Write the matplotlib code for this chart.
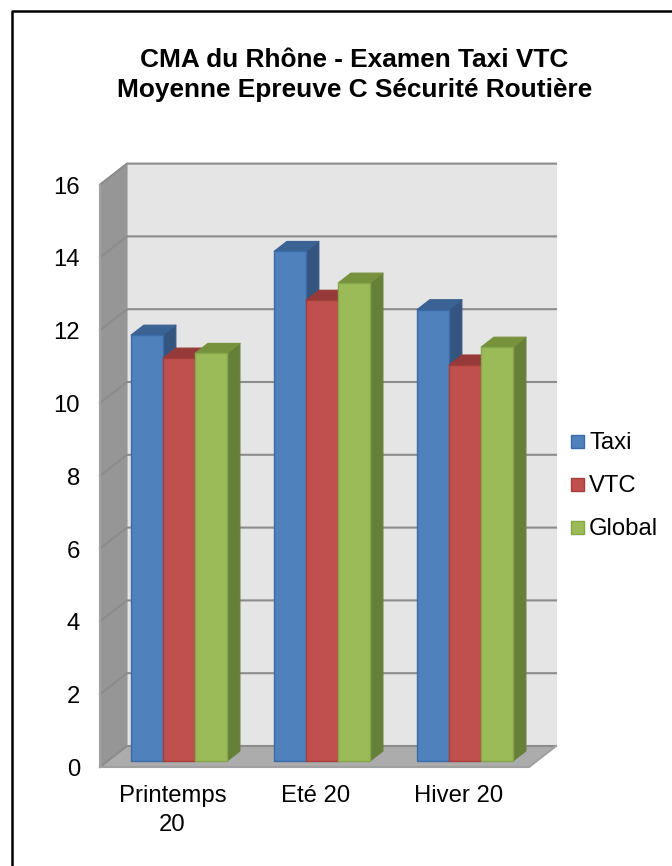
import matplotlib
matplotlib.use("Agg")
import matplotlib.pyplot as plt
from matplotlib.patches import Polygon, Rectangle

categories = ['Printemps\n20', 'Eté 20', 'Hiver 20']
series_names = ['Taxi', 'VTC', 'Global']
taxi = [11.7, 14.0, 12.4]
vtc = [11.07, 12.66, 10.88]
global_avg = [11.2, 13.13, 11.37]
y_ticks = [0, 2, 4, 6, 8, 10, 12, 14, 16]

front_colors = ['#4f81bd', '#c0504d', '#9bbb59']
top_colors = ['#3a6394', '#953a38', '#76923c']
side_colors = ['#33557f', '#7f3230', '#66803a']
edge_colors = ['#3c6ca8', '#a33e3b', '#86a64a']

W, H = 672, 866
plt.rcParams['font.family'] = ['Liberation Sans', 'DejaVu Sans']
fig = plt.figure(figsize=(W / 100, H / 100), dpi=100)
ax = fig.add_axes([0, 0, 1, 1])

# one category = 143 px, one unit of value = 36.4 px
px_x, px_y = 143.0, 36.4
ax.set_xlim(-100 / px_x, (W - 100) / px_x)
ax.set_ylim((767 - H) / px_y, 767 / px_y)
ax.axis('off')

# how far a full step into the depth moves a point, in data units
depth_x, depth_y = 27 / px_x, 21 / px_y


def proj(x, v, d):
    return (x + d * depth_x, v + d * depth_y)


def face(pts, color, edge=None, z=2, lw=0.8):
    ax.add_patch(Polygon(pts, closed=True, facecolor=color, edgecolor=edge or color,
                         linewidth=lw, zorder=z, joinstyle='round'))


top = y_ticks[-1]
n = len(categories)

# frame of the picture, only left and top show
ax.plot([12 / W, 12 / W, 1], [0, 1 - 11 / H, 1 - 11 / H], transform=ax.transAxes,
        color='black', lw=1.8, zorder=20, clip_on=False)

# walls and floor
face([proj(0, 0, 1), proj(n, 0, 1), proj(n, top, 1), proj(0, top, 1)], '#e5e5e5', z=1)
face([proj(0, 0, 0), proj(0, 0, 1), proj(0, top, 1), proj(0, top, 0)], '#969696', z=1)
face([proj(0, 0, 0), proj(n, 0, 0), proj(n, 0, 1), proj(0, 0, 1)], '#acacac', z=1)

for t in y_ticks:
    xs = [proj(0, t, 0)[0], proj(0, t, 1)[0], proj(n, t, 1)[0]]
    ys = [proj(0, t, 0)[1], proj(0, t, 1)[1], proj(n, t, 1)[1]]
    ax.plot(xs, ys, color='#8c8c8c', lw=1.5, zorder=1.5)
ax.plot([proj(0, 0, 0)[0], proj(n, 0, 0)[0], proj(n, 0, 1)[0]],
        [proj(0, 0, 0)[1], proj(n, 0, 0)[1], proj(n, 0, 1)[1]],
        color='#a0a0a0', lw=1.5, zorder=1.5)
ax.plot([proj(0, 0, 0)[0], proj(0, top, 0)[0]], [0, top], color='#a0a0a0', lw=1.5, zorder=1.5)

# bars, drawn from the back of the scene forward
bar_w = 0.224
gap = 0.163
d0, d1 = 0.29, 0.76
all_series = [taxi, vtc, global_avg]
for i in range(n):
    for s, vals in enumerate(all_series):
        v = vals[i]
        x0 = i + gap + s * bar_w
        x1 = x0 + bar_w
        z = 3 + i + s * 0.1
        face([proj(x1, 0, d0), proj(x1, 0, d1), proj(x1, v, d1), proj(x1, v, d0)],
             side_colors[s], side_colors[s], z)
        face([proj(x0, v, d0), proj(x1, v, d0), proj(x1, v, d1), proj(x0, v, d1)],
             top_colors[s], top_colors[s], z)
        face([proj(x0, 0, d0), proj(x1, 0, d0), proj(x1, v, d0), proj(x0, v, d0)],
             front_colors[s], edge_colors[s], z + 0.05, lw=1.0)

# value labels and category labels
for t in y_ticks:
    ax.text(-20 / px_x, t - 3 / px_y, str(t), ha='right', va='center', fontsize=17.2, color='black')
for i, c in enumerate(categories):
    ax.text(i + 0.5 + 1 / px_x, -18 / px_y, c, ha='center', va='top', fontsize=17.2,
            color='black', linespacing=1.42)

# legend
for name, col, edge, py in zip(series_names, front_colors, edge_colors, [441, 484, 527]):
    v = (767 - py) / px_y
    lx = (571 - 100) / px_x
    ax.add_patch(Rectangle((lx, v - 6.5 / px_y), 13 / px_x, 13 / px_y, facecolor=col,
                           edgecolor=edge, linewidth=1.0, zorder=5))
    ax.text((589 - 100) / px_x, v - 2 / px_y, name, ha='left', va='center', fontsize=17.2, color='black')

# title
ax.text(354.5 / W, 1 - 75 / H, 'CMA du Rhône - Examen Taxi VTC\nMoyenne Epreuve C Sécurité Routière',
        transform=ax.transAxes, ha='center', va='center', fontsize=18.9, fontweight='bold',
        color='black', linespacing=1.32)

fig.savefig('out.png', dpi=100)
